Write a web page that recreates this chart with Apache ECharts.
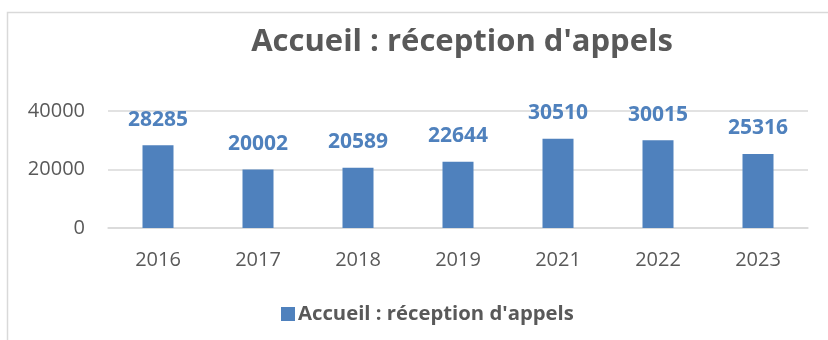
<!DOCTYPE html>
<html>
<head>
<meta charset="utf-8">
<script src="https://cdn.jsdelivr.net/npm/echarts@6/dist/echarts.min.js"></script>
<style>
  html, body { margin: 0; padding: 0; background: #ffffff; }
  #chart { width: 828px; height: 340px; }
</style>
</head>
<body>
<div id="chart"></div>
<script>
// Calls received at the reception desk, per year
const years = ['2016', '2017', '2018', '2019', '2021', '2022', '2023'];
const calls = [28285, 20002, 20589, 22644, 30510, 30015, 25316];
const yTicks = { min: 0, max: 40000, interval: 20000 };
const seriesName = "Accueil : réception d'appels";

const FONT = '"Open Sans", Lato, sans-serif';
const BLUE = '#4F81BD';
const GREY_TEXT = '#595959';

const chart = echarts.init(document.getElementById('chart'), null, { renderer: 'canvas' });

chart.setOption({
  animation: false,
  backgroundColor: '#ffffff',
  textStyle: { fontFamily: FONT },
  graphic: [{
    type: 'rect',
    silent: true,
    z: -1,
    shape: { x: 7.5, y: 12.5, width: 900, height: 400 },
    style: { fill: 'none', stroke: '#d9d9d9', lineWidth: 1.5 }
  }],
  title: {
    text: seriesName,
    left: 457,
    textAlign: 'center',
    top: 22,
    textStyle: { fontFamily: FONT, fontSize: 31, fontWeight: 'bold', color: GREY_TEXT }
  },
  legend: {
    data: [seriesName],
    top: 299,
    left: 276,
    itemWidth: 14,
    itemHeight: 14,
    itemGap: 5,
    icon: 'rect',
    textStyle: { fontFamily: FONT, fontSize: 20.3, fontWeight: 'bold', color: GREY_TEXT, padding: [0, 0, 0, -2] }
  },
  grid: { left: 108, right: 20, top: 111, bottom: 112, containLabel: false },
  xAxis: {
    type: 'category',
    data: years,
    axisTick: { show: false },
    axisLine: { show: true, lineStyle: { color: '#d9d9d9', width: 1.5 } },
    axisLabel: { fontFamily: FONT, fontSize: 20, color: GREY_TEXT, margin: 22 }
  },
  yAxis: {
    type: 'value',
    min: yTicks.min,
    max: yTicks.max,
    interval: yTicks.interval,
    axisLine: { show: false },
    axisTick: { show: false },
    splitLine: { lineStyle: { color: '#d9d9d9', width: 1.5 } },
    axisLabel: { fontFamily: FONT, fontSize: 20, color: GREY_TEXT, margin: 23, formatter: v => String(v) }
  },
  series: [{
    name: seriesName,
    type: 'bar',
    data: calls,
    barWidth: '31%',
    itemStyle: { color: BLUE },
    label: {
      show: true,
      position: 'top',
      distance: 15,
      fontFamily: FONT,
      fontSize: 21,
      fontWeight: 'bold',
      color: BLUE
    }
  }]
});
</script>
</body>
</html>
